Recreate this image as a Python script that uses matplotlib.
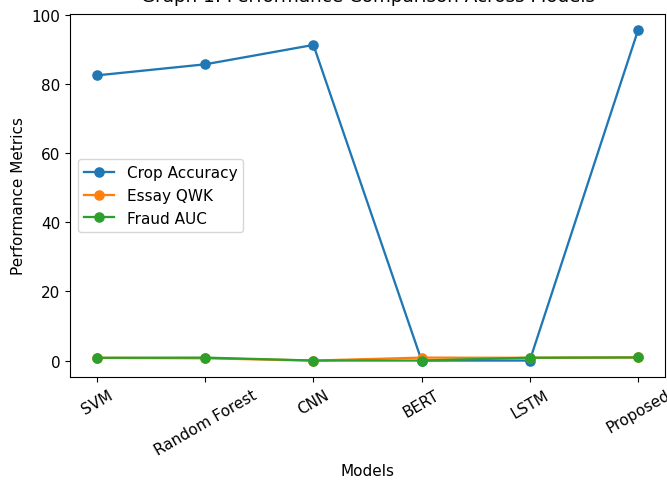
import matplotlib
matplotlib.use("Agg")
import matplotlib.pyplot as plt

models = ["SVM", "Random Forest", "CNN", "BERT", "LSTM", "Proposed"]
crop_accuracy = [82.5, 85.7, 91.3, 0.0, 0.0, 95.5]
essay_qwk = [0.78, 0.65, 0.0, 0.85, 0.80, 0.90]
fraud_auc = [0.80, 0.85, 0.0, 0.0, 0.82, 0.90]

# reference looks like a slightly enlarged default style
plt.rcParams["font.size"] = 11
plt.rcParams["lines.linewidth"] = 1.65
plt.rcParams["lines.markersize"] = 6.6

fig = plt.figure(figsize=(6.67, 4.81), dpi=100)
ax = fig.add_axes([0.105, 0.214, 0.892, 0.755])

ax.plot(models, crop_accuracy, marker="o", label="Crop Accuracy")
ax.plot(models, essay_qwk, marker="o", label="Essay QWK")
ax.plot(models, fraud_auc, marker="o", label="Fraud AUC")

# title sits mostly above the top edge in the reference
ax.set_title("Graph 1: Performance Comparison Across Models", pad=9.5)
ax.set_xlabel("Models")
ax.set_ylabel("Performance Metrics")
ax.tick_params(axis="x", rotation=30)
ax.legend(loc="center left")

fig.savefig("out.png", dpi=100)
